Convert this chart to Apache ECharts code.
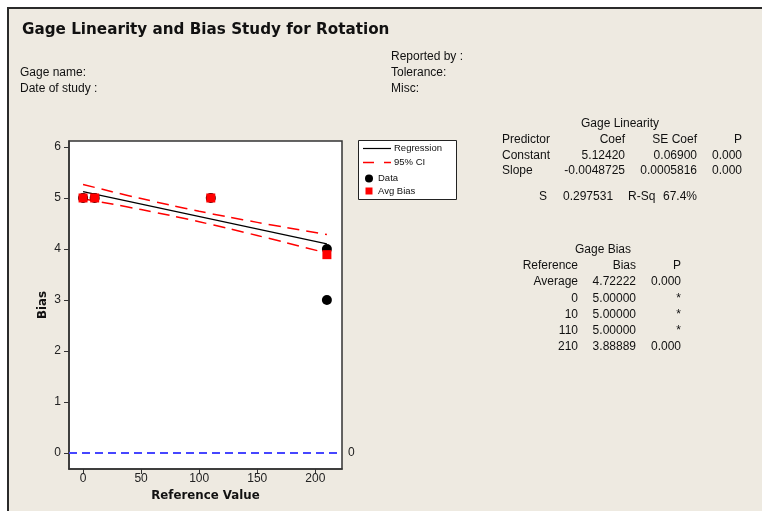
<!DOCTYPE html>
<html>
<head>
<meta charset="utf-8">
<script src="https://cdn.jsdelivr.net/npm/echarts@6/dist/echarts.min.js"></script>
<style>
  html, body { margin: 0; padding: 0; background: #fff; }
  #chart { width: 762px; height: 511px; }
</style>
</head>
<body>
<div id="chart"></div>
<script>
// Observations (reference value, bias) and averaged bias per reference value
const dataPoints = [[0, 5], [10, 5], [110, 5], [210, 4], [210, 3]];
const avgBias = [[0, 5], [10, 5], [110, 5], [210, 3.88889]];

// Fitted regression: Bias = 5.12420 - 0.0048725 * Reference
const regression = [[0, 5.1242], [210, 4.10098]];

// 95% confidence band around the fit
const ciX = [0, 25, 50, 75, 100, 125, 150, 175, 210];
const ciUpper = [5.2644, 5.1239, 4.9884, 4.8599, 4.7398, 4.6277, 4.5218, 4.4202, 4.2823];
const ciLower = [4.9840, 4.8809, 4.7727, 4.6576, 4.5341, 4.4026, 4.2648, 4.1228, 3.9197];

// Tick labels
const xTicks = [0, 50, 100, 150, 200];
const yTicks = [0, 1, 2, 3, 4, 5, 6];

// Gage linearity table
const linTitle = 'Gage Linearity';
const linHeader = ['Predictor', 'Coef', 'SE Coef', 'P'];
const linRows = [
  ['Constant', '5.12420', '0.06900', '0.000'],
  ['Slope', '-0.0048725', '0.0005816', '0.000']
];
const fitStats = ['S', '0.297531', 'R-Sq', '67.4%'];

// Gage bias table
const biasTitle = 'Gage Bias';
const biasHeader = ['Reference', 'Bias', 'P'];
const biasRows = [
  ['Average', '4.72222', '0.000'],
  ['0', '5.00000', '*'],
  ['10', '5.00000', '*'],
  ['110', '5.00000', '*'],
  ['210', '3.88889', '0.000']
];

// Legend entries
const legendNames = ['Regression', '95% CI', 'Data', 'Avg Bias'];

const FONT = 'Liberation Sans';
const BOLD_FONT = 'DejaVu Sans';
const INK = '#111';
const RED = '#ff0000';

function txt(text, x, y, align, size) {
  return {
    type: 'text', x: x, y: y, silent: true,
    style: {
      text: text, fill: INK, font: (size || 12) + 'px "' + FONT + '"',
      textAlign: align || 'left', textVerticalAlign: 'middle'
    }
  };
}

const pairs = (xs, ys) => xs.map((x, i) => [x, ys[i]]);

const graphics = [];
// Report frame
graphics.push({
  type: 'rect', silent: true, z: -5,
  shape: { x: 8, y: 8, width: 800, height: 600 },
  style: { fill: '#EEEAE1', stroke: '#2a2a2a', lineWidth: 2 }
});
// Header
graphics.push({
  type: 'text', x: 22, y: 30, silent: true,
  style: { text: 'Gage Linearity and Bias Study for Rotation', fill: INK,
           font: 'bold 15.2px "' + BOLD_FONT + '"', textVerticalAlign: 'middle' }
});
graphics.push(txt('Reported by :', 391, 57));
graphics.push(txt('Gage name:', 20, 73));
graphics.push(txt('Tolerance:', 391, 73));
graphics.push(txt('Date of study :', 20, 88.5));
graphics.push(txt('Misc:', 391, 88.5));

// Linearity table
const linCols = [[502, 'left'], [625, 'right'], [697, 'right'], [742, 'right']];
graphics.push(txt(linTitle, 620, 123.5, 'center'));
[linHeader].concat(linRows).forEach((row, r) => {
  row.forEach((cell, c) => {
    graphics.push(txt(cell, linCols[c][0], 139.5 + r * 15.8, linCols[c][1]));
  });
});
const statCols = [[547, 'right'], [563, 'left'], [628, 'left'], [663, 'left']];
fitStats.forEach((cell, c) => graphics.push(txt(cell, statCols[c][0], 196.5, statCols[c][1])));

// Bias table
const biasCols = [578, 636, 681];
graphics.push(txt(biasTitle, 603, 250, 'center'));
[biasHeader].concat(biasRows).forEach((row, r) => {
  row.forEach((cell, c) => {
    graphics.push(txt(cell, biasCols[c], 266 + r * 16.1, 'right'));
  });
});

// Legend box with its samples
graphics.push({
  type: 'rect', silent: true, z: 10,
  shape: { x: 358.5, y: 140.5, width: 98, height: 59 },
  style: { fill: '#fff', stroke: '#222', lineWidth: 1 }
});
graphics.push({
  type: 'line', silent: true, z: 11,
  shape: { x1: 363, y1: 148.5, x2: 391, y2: 148.5 },
  style: { stroke: '#000', lineWidth: 1.2 }
});
graphics.push({
  type: 'line', silent: true, z: 11,
  shape: { x1: 363, y1: 162.5, x2: 391, y2: 162.5 },
  style: { stroke: RED, lineWidth: 1.3, lineDash: [11, 10] }
});
graphics.push({
  type: 'circle', silent: true, z: 11,
  shape: { cx: 369, cy: 178.5, r: 4 },
  style: { fill: '#000' }
});
graphics.push({
  type: 'rect', silent: true, z: 11,
  shape: { x: 365.5, y: 187.5, width: 7, height: 7 },
  style: { fill: RED }
});
[[394, 148.5], [394, 162.5], [378, 178.5], [378, 191]].forEach((p, i) => {
  const t = txt(legendNames[i], p[0], p[1], 'left', 9.5);
  t.z = 11;
  graphics.push(t);
});

const axisColor = '#333';

const option = {
  backgroundColor: '#fff',
  animation: false,
  textStyle: { fontFamily: FONT },
  graphic: graphics,
  grid: {
    left: 69, right: 420, top: 141, bottom: 42,
    show: true, backgroundColor: '#fff', borderColor: axisColor, borderWidth: 1.5
  },
  xAxis: {
    type: 'value', min: -12.1, max: 223,
    splitLine: { show: false },
    axisLine: { show: true, onZero: false, lineStyle: { color: axisColor, width: 1.5 } },
    axisTick: { show: true, length: 5, customValues: xTicks, lineStyle: { color: axisColor } },
    axisLabel: { customValues: xTicks, color: '#222', fontSize: 12, margin: 4 },
    name: 'Reference Value', nameLocation: 'middle', nameGap: 20,
    nameTextStyle: { fontFamily: BOLD_FONT, fontWeight: 'bold', fontSize: 11.8, color: INK }
  },
  yAxis: {
    type: 'value', min: -0.313, max: 6.117,
    splitLine: { show: false },
    axisLine: { show: true, onZero: false, lineStyle: { color: axisColor, width: 1.5 } },
    axisTick: { show: true, length: 5, customValues: yTicks, lineStyle: { color: axisColor } },
    axisLabel: { customValues: yTicks, color: '#222', fontSize: 12, margin: 8 },
    name: 'Bias', nameLocation: 'middle', nameGap: 20, nameRotate: 90,
    nameTextStyle: { fontFamily: BOLD_FONT, fontWeight: 'bold', fontSize: 11.8, color: INK }
  },
  series: [
    {
      name: '95% CI', type: 'line', data: pairs(ciX, ciUpper), smooth: 0.3,
      symbol: 'none', lineStyle: { color: RED, width: 1.5, type: [12, 7] },
      itemStyle: { color: RED }, z: 2
    },
    {
      name: '95% CI', type: 'line', data: pairs(ciX, ciLower), smooth: 0.3,
      symbol: 'none', lineStyle: { color: RED, width: 1.5, type: [12, 7] },
      itemStyle: { color: RED }, z: 2
    },
    {
      name: 'Regression', type: 'line', data: regression, symbol: 'none',
      lineStyle: { color: '#000', width: 1.2 }, itemStyle: { color: '#000' }, z: 3,
      markLine: {
        silent: true, symbol: 'none', animation: false,
        data: [{ yAxis: 0 }],
        lineStyle: { color: '#4646ff', width: 2, type: [8, 5] },
        label: { show: true, position: 'end', formatter: '0', color: '#222', fontSize: 12, distance: 6 }
      }
    },
    {
      name: 'Data', type: 'scatter', data: dataPoints, symbol: 'circle', symbolSize: 10,
      itemStyle: { color: '#000', opacity: 1 }, z: 4
    },
    {
      name: 'Avg Bias', type: 'scatter', data: avgBias, symbol: 'rect', symbolSize: 9,
      itemStyle: { color: RED, opacity: 1 }, z: 5
    }
  ]
};

const chart = echarts.init(document.getElementById('chart'), null, { renderer: 'canvas' });
chart.setOption(option);
</script>
</body>
</html>
